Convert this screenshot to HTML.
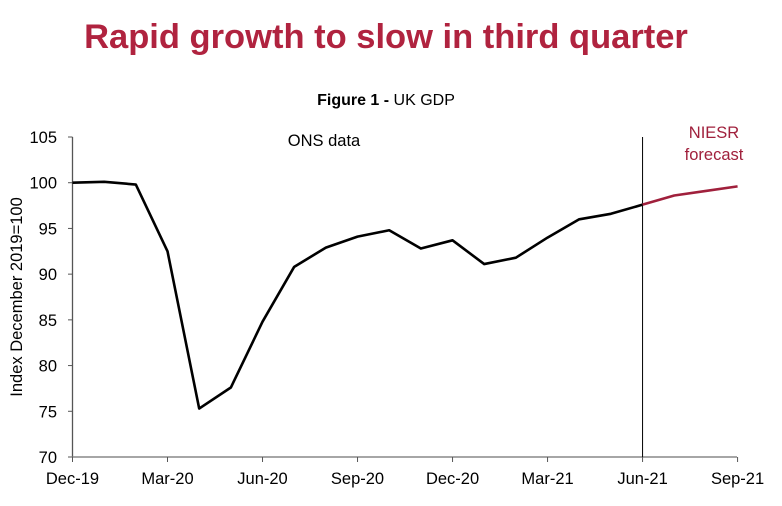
<!DOCTYPE html>
<html><head><meta charset="utf-8"><style>
body{margin:0;background:#fff;width:782px;height:501px;overflow:hidden;font-family:"Liberation Sans",sans-serif}
</style></head><body>
<svg width="782" height="501">
<text x="386" y="48" text-anchor="middle" font-size="34.5" font-weight="bold" fill="#b0233f">Rapid growth to slow in third quarter</text>
<text x="386" y="105" text-anchor="middle" font-size="16" fill="#000"><tspan font-weight="bold">Figure 1 - </tspan>UK GDP</text>
<g id="axes"></g>
<text x="324" y="146" text-anchor="middle" font-size="16.5">ONS data</text>
<text x="714" y="138" text-anchor="middle" font-size="16.5" fill="#a0203c">NIESR</text>
<text x="714" y="160" text-anchor="middle" font-size="16.5" fill="#a0203c">forecast</text>
<text transform="translate(22,297) rotate(-90)" text-anchor="middle" font-size="16.5">Index December 2019=100</text>
</svg>
<script>
const months=["Dec-19","Jan-20","Feb-20","Mar-20","Apr-20","May-20","Jun-20","Jul-20","Aug-20","Sep-20","Oct-20","Nov-20","Dec-20","Jan-21","Feb-21","Mar-21","Apr-21","May-21","Jun-21","Jul-21","Aug-21","Sep-21"];
const onsValues=[100.0,100.1,99.8,92.5,75.3,77.6,84.8,90.8,92.9,94.1,94.8,92.8,93.7,91.1,91.8,94.0,96.0,96.6,97.6];
const forecastValues=[97.6,98.6,99.1,99.6];
const forecastStart=18;
const yTicks=[70,75,80,85,90,95,100,105];
const xTickLabels=["Dec-19","Mar-20","Jun-20","Sep-20","Dec-20","Mar-21","Jun-21","Sep-21"];
const NS="http://www.w3.org/2000/svg";
const svg=document.querySelector('svg'),g=document.getElementById('axes');
const x=i=>72.5+i*31.67, y=v=>137+(105-v)*320/35;
function el(t,a,p){const e=document.createElementNS(NS,t);for(const k in a)e.setAttribute(k,a[k]);(p||g).appendChild(e);return e;}
let e=el('line',{x1:72.5,y1:137,x2:72.5,y2:457,stroke:'#555','stroke-width':1.3});

e=el('line',{x1:72.5,y1:457,x2:737,y2:457,stroke:'#888','stroke-width':1.5});

yTicks.forEach(v=>{
 e=el('line',{x1:68,y1:y(v),x2:72.5,y2:y(v),stroke:'#555'});
 
 e=el('text',{x:57,y:y(v)+6,'text-anchor':'end','font-size':16.5});e.textContent=v;
 
});
xTickLabels.forEach(l=>{const i=months.indexOf(l);
 e=el('line',{x1:x(i),y1:457,x2:x(i),y2:462,stroke:'#555'});
 
 e=el('text',{x:x(i),y:484,'text-anchor':'middle','font-size':16.5});e.textContent=l;
 
});
e=el('line',{x1:x(forecastStart),y1:137,x2:x(forecastStart),y2:457,stroke:'#000','stroke-width':1});

e=el('polyline',{points:onsValues.map((v,i)=>x(i)+','+y(v)).join(' '),fill:'none',stroke:'#000','stroke-width':2.6,'stroke-linejoin':'round'});

e=el('polyline',{points:forecastValues.map((v,i)=>x(i+forecastStart)+','+y(v)).join(' '),fill:'none',stroke:'#a0203c','stroke-width':2.6,'stroke-linejoin':'round'});

</script>
</body></html>
